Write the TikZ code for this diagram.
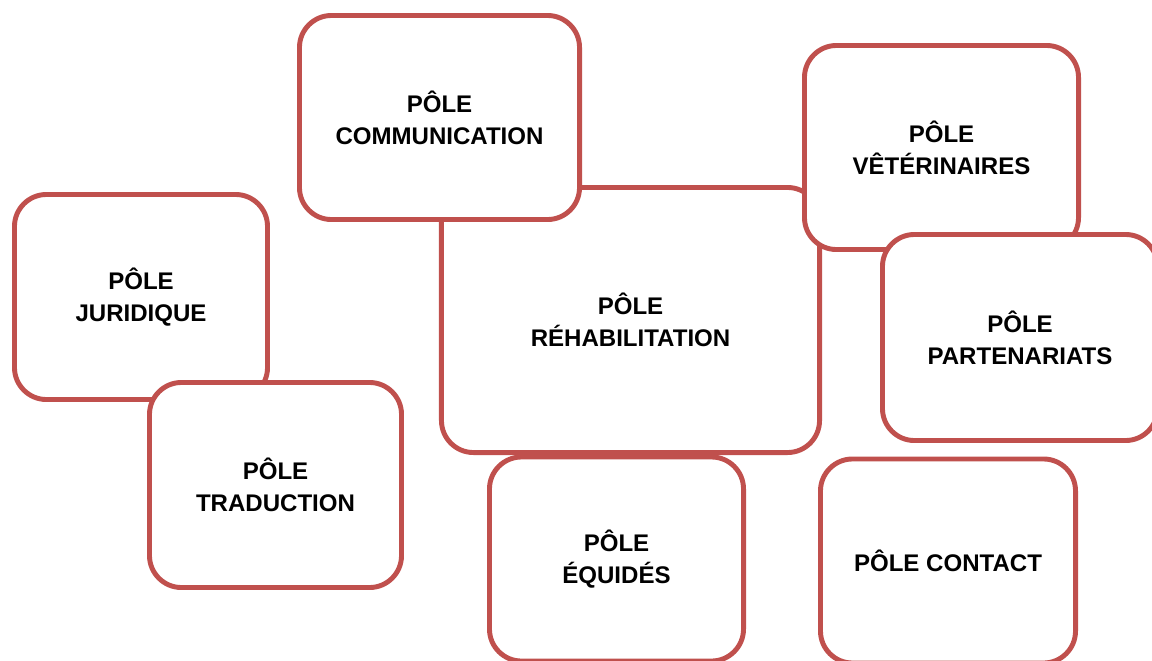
\documentclass[tikz,border=0pt]{standalone}
\usepackage{fontspec}
\setmainfont{Liberation Sans}
\definecolor{polered}{HTML}{C0504D}
\tikzset{
    pole/.style 2 args={draw=polered, line width=3.5pt, fill=white, rounded corners=0.8cm,
        minimum width=#1, minimum height=#2, align=center,
        font=\fontsize{17.1}{22.6}\selectfont\bfseries}
}
\begin{document}
\begin{tikzpicture}[x=0.025cm,y=-0.025cm]
\useasboundingbox (0,0) rectangle (1152,660);
\clip (0,0) rectangle (1152,660);
% lower layers first
\node[pole={9.45cm}{6.625cm}] (rehab) at (630.5,320) {PÔLE\\RÉHABILITATION};
\node[pole={7cm}{5.1cm}] (comm) at (439.5,117.5) {PÔLE\\COMMUNICATION};
\node[pole={6.85cm}{5.1cm}] (vet) at (941.5,147.5) {PÔLE\\VÊTÉRINAIRES};
\node[pole={6.875cm}{5.15cm}] (part) at (1020,337.5) {PÔLE\\PARTENARIATS};
\node[pole={6.325cm}{5.125cm}] (jur) at (141,297) {PÔLE\\JURIDIQUE};
\node[pole={6.3cm}{5.125cm}] (trad) at (275.5,485) {PÔLE\\TRADUCTION};
\node[pole={6.35cm}{5.1cm}] (equ) at (616.5,559) {PÔLE\\ÉQUIDÉS};
\node[pole={6.375cm}{5.1cm}] (contact) at (948,561) {PÔLE CONTACT};
\end{tikzpicture}
\end{document}
